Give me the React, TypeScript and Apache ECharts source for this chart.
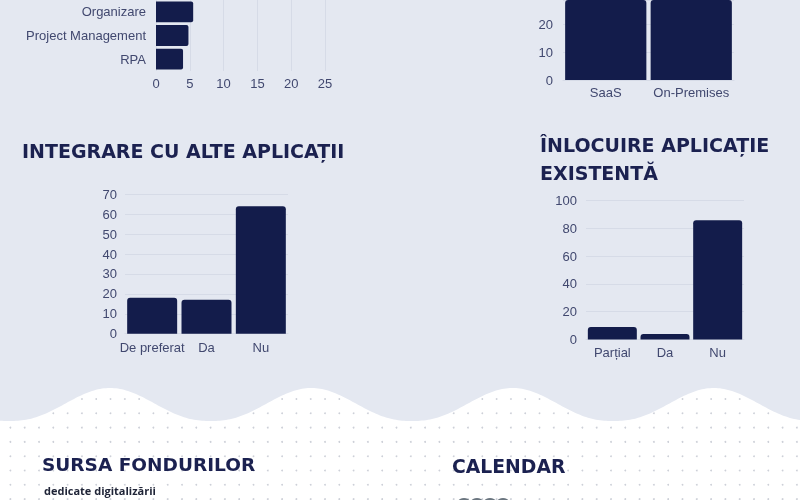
import React, { useEffect, useRef } from "react";
import * as echarts from "echarts";

const toolCategories = ["RPA", "Project Management", "Organizare"];
const toolValues = [4, 4.8, 5.5];
const toolTicks = { min: 0, max: 25, interval: 5 };

const hostingCategories = ["SaaS", "On-Premises"];
const hostingValues = [48, 52];

const integrationCategories = ["De preferat", "Da", "Nu"];
const integrationValues = [18, 17, 64];

const replaceCategories = ["Parțial", "Da", "Nu"];
const replaceValues = [9, 4, 86];

const NAVY = "#131c4b";
const LABEL = "#41486f";
const SPLIT = "#d6dbe7";
const BG = "#e4e8f1";
const FONT = "Liberation Sans";

function buildBackground() {
  const els: any[] = [];
  els.push({ type: "rect", z: -100, shape: { x: 0, y: 0, width: 800, height: 500 }, style: { fill: "#ffffff" } });
  for (let y = 399; y < 505; y += 14.3) {
    for (let x = 10.4; x < 805; x += 14.3) {
      els.push({ type: "circle", z: -99, shape: { cx: x, cy: y, r: 0.9 }, style: { fill: "#cdd0d8" } });
    }
  }
  const pts: number[][] = [[0, 0], [800, 0]];
  for (let x = 800; x >= 0; x -= 2) {
    const t = (1 + Math.cos((2 * Math.PI * (x - 110)) / 201.3)) / 2;
    pts.push([x, 421 - 33 * Math.pow(t, 1.2)]);
  }
  els.push({ type: "polygon", z: -98, shape: { points: pts }, style: { fill: BG } });
  return els;
}

function titleText(text: string, x: number, y: number, size: number, family = "DejaVu Sans", weight = "700", fill = "#1b2150") {
  return {
    type: "text",
    z: 10,
    style: { text, x, y, fill, font: `${weight} ${size}px "${family}"`, textVerticalAlign: "middle", verticalAlign: "middle" },
  };
}

export default function App() {
  const ref = useRef<HTMLDivElement>(null);
  useEffect(() => {
    if (!ref.current) return;
    const chart = echarts.init(ref.current, undefined, { renderer: "svg" });
    const axisLabel = { color: LABEL, fontFamily: FONT, fontSize: 13 };
    const splitLine = { show: true, lineStyle: { color: SPLIT, width: 1 } };
    const graphic: any[] = [
      ...buildBackground(),
      titleText("INTEGRARE CU ALTE APLICAȚII", 22, 151, 19),
      titleText("ÎNLOCUIRE APLICAȚIE", 540, 145, 19),
      titleText("EXISTENTĂ", 540, 173, 19),
      titleText("SURSA FONDURILOR", 42, 464, 18.5),
      titleText("dedicate digitalizării", 44, 490, 11, "Open Sans", "700", "#1f2437"),
      titleText("CALENDAR", 452, 466, 18.8),
    ];
    [464, 477, 490, 503].forEach((cx) =>
      graphic.push({ type: "circle", z: 10, shape: { cx, cy: 506, r: 8 }, style: { fill: "#6b7680" } })
    );

    const catLabel = { ...axisLabel, margin: 7, interval: 0 };

    chart.setOption({
      animation: false,
      backgroundColor: "transparent",
      graphic: { elements: graphic },
      grid: [
        { left: 156, top: -3, width: 169, height: 74 },
        { left: 563, top: 0, width: 171, height: 80 },
        { left: 125, top: 194.3, width: 163, height: 139.4 },
        { left: 586, top: 200.7, width: 158, height: 138.8 },
      ],
      xAxis: [
        {
          gridIndex: 0, type: "value", min: toolTicks.min, max: toolTicks.max, interval: toolTicks.interval,
          axisLabel: { ...axisLabel, margin: 6 }, splitLine, axisLine: { show: false }, axisTick: { show: false },
        },
        {
          gridIndex: 1, type: "category", data: hostingCategories,
          axisLabel: { ...catLabel, margin: 6 }, axisLine: { lineStyle: { color: SPLIT } }, axisTick: { show: false },
        },
        {
          gridIndex: 2, type: "category", data: integrationCategories,
          axisLabel: catLabel, axisLine: { lineStyle: { color: SPLIT } }, axisTick: { show: false },
        },
        {
          gridIndex: 3, type: "category", data: replaceCategories,
          axisLabel: { ...catLabel, margin: 6 }, axisLine: { lineStyle: { color: SPLIT } }, axisTick: { show: false },
        },
      ],
      yAxis: [
        {
          gridIndex: 0, type: "category", data: toolCategories,
          axisLabel: { ...axisLabel, margin: 10, interval: 0 }, axisLine: { show: false }, axisTick: { show: false },
        },
        {
          gridIndex: 1, type: "value", min: 0, max: 80 / 2.8, interval: 10,
          axisLabel: { ...axisLabel, margin: 10, showMaxLabel: false }, splitLine, axisLine: { show: false }, axisTick: { show: false },
        },
        {
          gridIndex: 2, type: "value", min: 0, max: 70, interval: 10,
          axisLabel: { ...axisLabel, margin: 8 }, splitLine, axisLine: { show: false }, axisTick: { show: false },
        },
        {
          gridIndex: 3, type: "value", min: 0, max: 100, interval: 20,
          axisLabel: { ...axisLabel, margin: 9 }, splitLine, axisLine: { show: false }, axisTick: { show: false },
        },
      ],
      series: [
        {
          type: "bar", xAxisIndex: 0, yAxisIndex: 0, data: toolValues, barCategoryGap: "12%",
          itemStyle: { color: NAVY, borderRadius: [0, 2, 2, 0] },
        },
        {
          type: "bar", xAxisIndex: 1, yAxisIndex: 1, data: hostingValues, barCategoryGap: "5%", clip: true,
          itemStyle: { color: NAVY, borderRadius: [3, 3, 0, 0] },
        },
        {
          type: "bar", xAxisIndex: 2, yAxisIndex: 2, data: integrationValues, barCategoryGap: "8%",
          itemStyle: { color: NAVY, borderRadius: [3, 3, 0, 0] },
        },
        {
          type: "bar", xAxisIndex: 3, yAxisIndex: 3, data: replaceValues, barCategoryGap: "7%",
          itemStyle: { color: NAVY, borderRadius: [3, 3, 0, 0] },
        },
      ],
    });
    return () => chart.dispose();
  }, []);
  return <div ref={ref} style={{ position: "fixed", left: 0, top: 0, width: 800, height: 500 }} />;
}
